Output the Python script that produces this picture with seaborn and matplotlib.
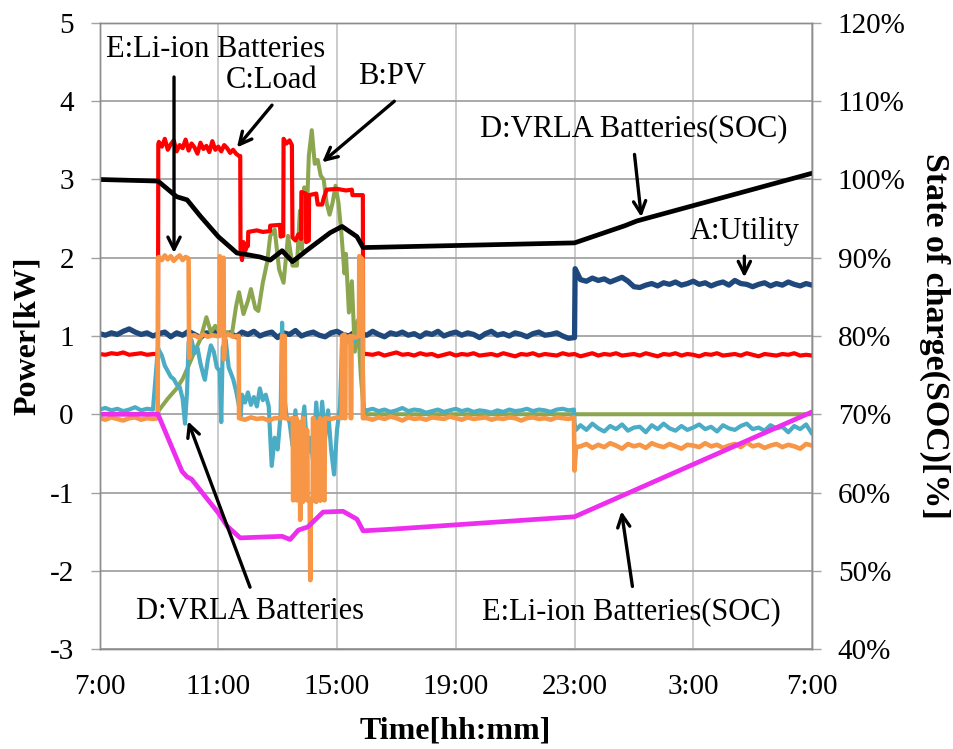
import matplotlib
matplotlib.use("Agg")
import numpy as np
import matplotlib.pyplot as plt
import seaborn as sns

# ---------------------------------------------------------------------------
# Time axis: hours elapsed since 7:00 (one full day, 7:00 -> 7:00)
# ---------------------------------------------------------------------------
TICK_HOURS = [0, 4, 8, 12, 16, 20, 24]
TICK_LABELS = ["7:00", "11:00", "15:00", "19:00", "23:00", "3:00", "7:00"]
POWER_TICKS = [-3, -2, -1, 0, 1, 2, 3, 4, 5]
SOC_TICKS = [40, 50, 60, 70, 80, 90, 100, 110, 120]

# ---------------------------------------------------------------------------
# A: Utility [kW]
# ---------------------------------------------------------------------------
UTIL_DAY = [  # 7:00-23:00, 12-min samples
    1.03, 1.01, 1.04, 1.02, 1.06, 1.09, 1.05, 1.02, 1.04, 1.00,
    1.03, 1.05, 0.99, 1.04, 1.01, 1.06, 1.02, 0.98, 1.04, 1.03,
    1.07, 1.01, 1.04, 0.99, 1.05, 1.02, 1.06, 1.00, 1.03, 1.05,
    0.98, 1.04, 1.02, 1.07, 1.00, 1.03, 1.05, 1.01, 0.99, 1.04,
    1.06, 1.02, 1.00, 1.05, 1.03, 1.01, 1.06, 1.02, 0.99, 1.04,
    1.02, 1.05, 1.01, 1.03, 0.99, 1.04, 1.02, 1.06, 1.00, 1.03,
    1.05, 1.01, 1.04, 1.02, 0.98, 1.03, 1.06, 1.01, 1.03, 1.00,
    1.04, 1.02, 0.99, 1.03, 1.05, 1.01, 1.02, 1.04, 1.00, 0.97,
    0.98,
]
UTIL_JUMP_T = [16.02]
UTIL_JUMP_V = [1.86]
UTIL_NIGHT = [  # 23:12-7:00, 12-min samples
    1.72, 1.70, 1.74, 1.71, 1.73, 1.69, 1.72, 1.75, 1.70, 1.63,
    1.62, 1.65, 1.67, 1.64, 1.68, 1.66, 1.69, 1.65, 1.67, 1.70,
    1.66, 1.68, 1.64, 1.67, 1.69, 1.65, 1.71, 1.67, 1.66, 1.63,
    1.66, 1.68, 1.64, 1.67, 1.65, 1.69, 1.66, 1.64, 1.67, 1.65,
]

# ---------------------------------------------------------------------------
# B: PV [kW]
# ---------------------------------------------------------------------------
PV_T = [0.0, 1.97, 2.0, 2.3, 2.6, 2.8, 3.0, 3.2, 3.4, 3.5,
        3.6, 3.75, 3.9, 4.1, 4.3, 4.45, 4.6, 4.7, 4.85, 5.0,
        5.1, 5.25, 5.35, 5.5, 5.65, 5.75, 5.9, 6.05, 6.2, 6.35,
        6.5, 6.65, 6.75, 6.82, 6.9, 6.97, 7.05, 7.15, 7.25, 7.35,
        7.45, 7.55, 7.65, 7.75, 7.85, 7.95, 8.05, 8.15, 8.25, 8.3,
        8.4, 8.5, 8.6, 8.7, 8.8, 8.9, 9.0, 24.0]
PV_V = [0.0, 0.0, 0.05, 0.2, 0.33, 0.45, 0.62, 0.8, 0.96, 1.1,
        1.24, 1.05, 1.13, 1.02, 1.05, 1.0, 1.38, 1.56, 1.28, 1.45,
        1.6, 1.35, 1.32, 1.68, 1.95, 2.28, 2.36, 1.85, 1.68, 2.28,
        1.9, 1.9, 2.6, 2.1, 2.9, 2.4, 3.3, 3.63, 3.2, 3.25,
        3.05, 3.0, 2.7, 2.55, 2.7, 2.92, 2.7, 2.3, 1.8, 2.05,
        1.3, 1.7, 0.8, 1.2, 0.5, 0.05, 0.0, 0.0]

# ---------------------------------------------------------------------------
# C: Load [kW]
# ---------------------------------------------------------------------------
LOAD_MORNING = [0.77, 0.76, 0.78, 0.77, 0.79, 0.76, 0.77, 0.78, 0.76, 0.77]  # 7:00-8:48
LOAD_RISE_T = [1.97, 1.98]
LOAD_RISE_V = [0.77, 3.45]
LOAD_PEAK = [  # 9:00-11:42, 6-min samples
    3.48, 3.42, 3.52, 3.38, 3.45, 3.50, 3.36, 3.44, 3.40, 3.51,
    3.37, 3.46, 3.41, 3.33, 3.47, 3.39, 3.43, 3.35, 3.49, 3.38,
    3.42, 3.36, 3.44, 3.40, 3.34, 3.38, 3.33, 3.30,
]
LOAD_MID_T = [4.74, 4.75, 4.8, 4.85, 4.9, 4.97, 5.0, 5.01, 5.3, 5.5,
              5.74, 5.75, 6.08, 6.1, 6.19, 6.2, 6.3, 6.4, 6.48, 6.5,
              6.6, 6.7, 6.79, 6.8, 6.95, 6.96, 7.05, 7.06, 7.3, 7.35,
              7.5, 7.55, 7.65, 8.0, 8.3, 8.5, 8.52, 8.87, 8.88]
LOAD_MID_V = [3.3, 2.1, 1.97, 2.2, 2.08, 2.15, 2.15, 2.33, 2.35, 2.33,
              2.34, 2.41, 2.42, 2.27, 2.28, 3.52, 3.46, 3.5, 3.44, 2.26,
              2.22, 2.3, 2.24, 2.84, 2.82, 2.2, 2.22, 2.8, 2.82, 2.68,
              2.68, 2.76, 2.87, 2.88, 2.86, 2.87, 2.8, 2.8, 0.77]
LOAD_NIGHT = [  # 16:00-7:00, 12-min samples
    0.77, 0.76, 0.78, 0.75, 0.77, 0.79, 0.76, 0.77, 0.75, 0.78,
    0.76, 0.77, 0.74, 0.76, 0.78, 0.75, 0.77, 0.76, 0.78, 0.75,
    0.76, 0.77, 0.75, 0.78, 0.76, 0.74, 0.77, 0.76, 0.78, 0.75,
    0.77, 0.76, 0.75, 0.78, 0.76, 0.77, 0.74, 0.76, 0.78, 0.75,
    0.77, 0.76, 0.78, 0.75, 0.76, 0.77, 0.75, 0.78, 0.76, 0.74,
    0.77, 0.76, 0.78, 0.75, 0.77, 0.76, 0.74, 0.77, 0.76, 0.78,
    0.75, 0.76, 0.77, 0.75, 0.78, 0.76, 0.74, 0.77, 0.76, 0.75,
    0.77, 0.76, 0.78, 0.75, 0.76, 0.75,
]

# ---------------------------------------------------------------------------
# D: VRLA batteries power [kW]
# ---------------------------------------------------------------------------
VRLA_MORNING = [0.06, 0.08, 0.05, 0.07, 0.04, 0.06, 0.09, 0.05, 0.07, 0.06]
VRLA_DAY_T = [1.97, 2.0, 2.1, 2.2, 2.3, 2.4, 2.5, 2.6, 2.7, 2.8,
              2.88, 2.95, 3.0, 3.1, 3.2, 3.3, 3.4, 3.5, 3.55, 3.65,
              3.75, 3.85, 3.95, 4.05, 4.1, 4.15, 4.25, 4.35, 4.5, 4.6,
              4.7, 4.75, 4.8, 4.9, 5.0, 5.1, 5.2, 5.3, 5.4, 5.5,
              5.6, 5.7, 5.8, 5.9, 6.0, 6.1, 6.15, 6.2, 6.3, 6.4,
              6.5, 6.6, 6.7, 6.8, 6.9, 7.0, 7.1, 7.2, 7.3, 7.4,
              7.5, 7.6, 7.7, 7.8, 7.9, 8.0, 8.1, 8.17, 8.3, 8.5,
              8.7, 8.85, 8.9]
VRLA_DAY_V = [0.85, 0.82, 0.75, 0.62, 0.55, 0.48, 0.45, 0.38, 0.35, 0.2,
              -0.12, 0.3, 0.92, 0.95, 0.78, 0.85, 0.65, 0.5, 0.44, 0.7,
              0.88, 0.8, 0.6, 0.55, -0.1, 0.85, 0.95, 0.6, 0.45, 0.3,
              0.1, -0.03, 0.25, 0.15, 0.28, 0.12, 0.22, 0.1, 0.33, 0.18,
              0.25, 0.1, -0.66, -0.3, -0.45, 0.0, 1.17, 0.3, -0.02, -0.1,
              -0.4, 0.05, -0.55, -0.2, 0.1, -0.5, -0.3, -0.62, 0.15, -0.35,
              0.16, -0.3, 0.05, -0.45, -0.77, -0.2, 0.1, 0.9, 0.95, 0.9,
              1.0, 0.95, 0.06]
VRLA_EVENING = [  # 16:00-22:48
    0.05, 0.07, 0.04, 0.06, 0.03, 0.05, 0.08, 0.04, 0.06, 0.05,
    0.02, 0.04, 0.06, 0.03, 0.05, 0.07, 0.04, 0.06, 0.03, 0.05,
    0.04, 0.02, 0.05, 0.03, 0.06, 0.04, 0.05, 0.07, 0.04, 0.06,
    0.05, 0.03, 0.06, 0.07, 0.05,
]
VRLA_STEP_T = [15.98, 16.0, 16.05]
VRLA_STEP_V = [0.06, -0.12, -0.2]
VRLA_NIGHT = [  # 23:12-7:00
    -0.14, -0.20, -0.12, -0.18, -0.22, -0.15, -0.19, -0.13, -0.21, -0.17,
    -0.16, -0.23, -0.14, -0.19, -0.12, -0.18, -0.21, -0.15, -0.20, -0.17,
    -0.13, -0.19, -0.16, -0.22, -0.14, -0.18, -0.20, -0.15, -0.12, -0.19,
    -0.17, -0.21, -0.14, -0.18, -0.16, -0.23, -0.15, -0.19, -0.13, -0.25,
]

# ---------------------------------------------------------------------------
# E: Li-ion batteries power [kW]
# ---------------------------------------------------------------------------
LI_MORNING = [-0.05, -0.07, -0.04, -0.06, -0.08, -0.05, -0.04, -0.07, -0.05, -0.06]
LI_DAY_T = [1.96, 1.97, 2.0, 2.1, 2.2, 2.3, 2.4, 2.5, 2.6, 2.7,
            2.8, 2.9, 3.0, 3.02, 3.06, 3.2, 3.35, 3.5, 3.65, 3.8,
            3.95, 4.04, 4.05, 4.12, 4.18, 4.19, 4.23, 4.35, 4.5, 4.69,
            4.7, 4.9, 5.1, 5.3, 5.5, 5.7, 5.9, 6.14, 6.15, 6.24,
            6.25, 6.4, 6.51, 6.52, 6.6, 6.61, 6.64, 6.65, 6.72, 6.73,
            6.75, 6.76, 6.78, 6.85, 6.86, 6.88, 6.89, 6.98, 6.99, 7.01,
            7.08, 7.1, 7.12, 7.18, 7.19, 7.21, 7.22, 7.3, 7.31, 7.33,
            7.42, 7.43, 7.45, 7.55, 7.58, 7.59, 7.8, 8.0, 8.16, 8.17,
            8.25, 8.26, 8.28, 8.29, 8.45, 8.46, 8.48, 8.49, 8.62, 8.74,
            8.75, 8.86, 8.87]
LI_DAY_V = [-0.05, 2.0, 2.01, 1.97, 2.03, 1.98, 2.02, 1.96, 2.0, 2.03,
            1.97, 2.01, 1.99, 0.72, 1.0, 1.01, 0.98, 1.02, 0.99, 1.01,
            1.0, 1.0, 2.02, 1.97, 2.0, 0.7, 1.0, 1.02, 0.99, 1.0,
            -0.05, -0.07, -0.04, -0.06, -0.05, -0.08, -0.05, -0.05, 1.0, 1.0,
            -0.05, -0.06, -0.05, -1.1, -1.08, -0.05, -0.05, -1.1, -1.05, -0.1,
            -0.1, -1.35, -1.1, -1.12, -0.05, -0.05, -1.1, -1.08, -0.2, -1.1,
            -1.1, -2.12, -1.1, -1.05, -0.05, -0.05, -1.1, -1.12, -0.1, -1.08,
            -1.1, -0.05, -1.1, -1.08, -1.1, -0.05, -0.06, -0.04, -0.05, 1.0,
            1.02, -0.05, -0.05, 0.98, 1.0, -0.05, -0.05, 1.0, 0.98, 1.0,
            2.02, 1.98, -0.05]
LI_EVENING = [  # 16:00-22:48
    -0.05, -0.07, -0.04, -0.06, -0.03, -0.05, -0.08, -0.04, -0.06, -0.05,
    -0.07, -0.04, -0.05, -0.06, -0.03, -0.05, -0.07, -0.04, -0.06, -0.05,
    -0.04, -0.07, -0.05, -0.06, -0.04, -0.05, -0.08, -0.05, -0.04, -0.06,
    -0.05, -0.07, -0.04, -0.05, -0.06,
]
LI_STEP_T = [15.98, 16.0, 16.05]
LI_STEP_V = [-0.04, -0.72, -0.42]
LI_NIGHT = [  # 23:12-7:00
    -0.41, -0.38, -0.43, -0.39, -0.42, -0.37, -0.40, -0.44, -0.38, -0.41,
    -0.39, -0.43, -0.37, -0.40, -0.42, -0.38, -0.41, -0.44, -0.39, -0.40,
    -0.42, -0.37, -0.41, -0.39, -0.43, -0.40, -0.38, -0.42, -0.36, -0.41,
    -0.39, -0.43, -0.40, -0.38, -0.42, -0.39, -0.41, -0.44, -0.38, -0.40,
]

# ---------------------------------------------------------------------------
# State of charge [%]
# ---------------------------------------------------------------------------
VRLA_SOC_T = [0.0, 1.0, 1.97, 2.6, 2.95, 3.4, 4.0, 4.63, 4.97, 5.4, 5.75,
              6.15, 6.5, 7.0, 7.77, 8.17, 8.67, 8.88, 16.0, 17.7, 18.1, 24.0]
VRLA_SOC_V = [100.0, 99.9, 99.8, 97.8, 97.4, 95.3, 92.7, 90.6, 90.4, 90.1, 89.7,
              90.9, 89.5, 91.0, 93.2, 94.0, 92.7, 91.3, 91.9, 94.1, 94.7, 100.8]
LI_SOC_T = [0.0, 1.97, 2.78, 2.95, 3.1, 4.0, 4.3, 4.74, 6.15, 6.42,
            6.7, 7.02, 7.53, 8.2, 8.67, 8.88, 9.8, 16.0, 24.0]
LI_SOC_V = [70.0, 70.0, 62.7, 62.0, 61.7, 57.4, 55.7, 54.2, 54.4, 54.0,
            55.2, 55.6, 57.5, 57.6, 56.6, 55.1, 55.3, 56.9, 70.3]


def regular(start, stop, values):
    """Evenly spaced sample times for a block of logged values."""
    return list(np.linspace(start, stop, len(values))), list(values)


def join(*segments):
    t, v = [], []
    for st, sv in segments:
        t.extend(st)
        v.extend(sv)
    return np.array(t), np.array(v)


util_t, util_v = join(regular(0, 16, UTIL_DAY), (UTIL_JUMP_T, UTIL_JUMP_V),
                      regular(16.2, 24, UTIL_NIGHT))
pv_t, pv_v = np.array(PV_T), np.array(PV_V)
load_t, load_v = join(regular(0, 1.8, LOAD_MORNING), (LOAD_RISE_T, LOAD_RISE_V),
                      regular(2.0, 4.7, LOAD_PEAK), (LOAD_MID_T, LOAD_MID_V),
                      regular(9.0, 24, LOAD_NIGHT))
vrla_t, vrla_v = join(regular(0, 1.8, VRLA_MORNING), (VRLA_DAY_T, VRLA_DAY_V),
                      regular(9.0, 15.8, VRLA_EVENING), (VRLA_STEP_T, VRLA_STEP_V),
                      regular(16.2, 24, VRLA_NIGHT))
li_t, li_v = join(regular(0, 1.8, LI_MORNING), (LI_DAY_T, LI_DAY_V),
                  regular(9.0, 15.8, LI_EVENING), (LI_STEP_T, LI_STEP_V),
                  regular(16.2, 24, LI_NIGHT))

# ---------------------------------------------------------------------------
# Styling
# ---------------------------------------------------------------------------
sns.set_style("white")
plt.rcParams["font.family"] = ["Liberation Serif", "DejaVu Serif"]
plt.rcParams["text.color"] = "black"
plt.rcParams["axes.labelcolor"] = "black"
plt.rcParams["xtick.color"] = "black"
plt.rcParams["ytick.color"] = "black"

GRID_H = "#A3A3A3"
GRID_V = "#BDBDBD"
SPINE = "#8C8C8C"

fig = plt.figure(figsize=(9.54, 7.49), dpi=100)
ax = fig.add_axes([0.1043, 0.1335, 0.7469, 0.8358])
ax2 = ax.twinx()

line_kw = dict(estimator=None, sort=False, legend=False)
sns.lineplot(x=util_t, y=util_v, ax=ax, color="#1F497D", linewidth=3.8, **line_kw)
sns.lineplot(x=pv_t, y=pv_v, ax=ax, color="#8BA64E", linewidth=2.9, **line_kw)
sns.lineplot(x=load_t, y=load_v, ax=ax, color="#FF0000", linewidth=3.0, **line_kw)
sns.lineplot(x=vrla_t, y=vrla_v, ax=ax, color="#4BACC6", linewidth=3.0, **line_kw)
sns.lineplot(x=li_t, y=li_v, ax=ax, color="#F79646", linewidth=3.3, **line_kw)

sns.lineplot(x=VRLA_SOC_T, y=VRLA_SOC_V, ax=ax2, color="#000000", linewidth=3.4, **line_kw)
sns.lineplot(x=LI_SOC_T, y=LI_SOC_V, ax=ax2, color="#EE2EEE", linewidth=3.4, **line_kw)

ax.set_xlim(0, 24)
ax.set_ylim(-3, 5)
ax2.set_ylim(40, 120)

ax.set_xticks(TICK_HOURS)
ax.set_xticklabels(TICK_LABELS)
ax.set_yticks(POWER_TICKS)
ax.set_yticklabels([str(v) for v in POWER_TICKS])
ax2.set_yticks(SOC_TICKS)
ax2.set_yticklabels([f"{v}%" for v in SOC_TICKS])
ax.set_xlabel("")
ax.set_ylabel("")
ax2.set_ylabel("")

ax.set_axisbelow(True)
ax.grid(True, axis="y", color=GRID_H, linewidth=1.3)
ax.grid(True, axis="x", color=GRID_V, linewidth=1.1)
ax2.grid(False)

for a in (ax, ax2):
    for s in a.spines.values():
        s.set_color(SPINE)
        s.set_linewidth(1.0)

TICK_FS = 21
ax.tick_params(axis="y", direction="out", length=6.5, width=1.0, color=GRID_H,
               pad=12, labelsize=TICK_FS, left=True, labelcolor="black")
ax.tick_params(axis="x", length=0, pad=18, labelsize=TICK_FS, labelcolor="black")
ax2.tick_params(axis="y", direction="out", length=6.5, width=1.0, color=GRID_H,
                pad=12, labelsize=TICK_FS, right=True, labelcolor="black")

# axis titles
fig.text(27 / 954, 1 - 336 / 749, "Power[kW]", rotation=90, ha="center", va="center",
         fontsize=23, fontweight="bold", color="black")
fig.text(935 / 954, 1 - 336 / 749, "State of charge(SOC)[%]", rotation=270,
         ha="center", va="center", fontsize=24.5, fontweight="bold", color="black")
fig.text(455 / 954, 1 - 731 / 749, "Time[hh:mm]", ha="center", va="center",
         fontsize=23, fontweight="bold", color="black")

# callout labels with arrows (positions in kW / hour coordinates)
LBL_FS = 22
arrow_kw = dict(arrowstyle="->", color="black", lw=2.4, mutation_scale=22,
                shrinkA=0, shrinkB=0)
callouts = [
    ("E:Li-ion Batteries", (3.9, 4.66), (2.51, 4.31), (2.51, 2.06)),
    ("C:Load", (5.78, 4.26), (5.81, 3.95), (4.63, 3.41)),
    ("B:PV", (9.86, 4.31), (9.93, 4.0), (7.5, 3.22)),
    ("D:VRLA Batteries(SOC)", (17.98, 3.65), (18.02, 3.32), (18.25, 2.52)),
    ("A:Utility", (21.75, 2.33), (21.72, 2.02), (21.72, 1.75)),
    ("D:VRLA Batteries", (5.07, -2.52), (5.07, -2.21), (2.98, -0.09)),
    ("E:Li-ion Batteries(SOC)", (17.92, -2.52), (17.95, -2.2), (17.58, -1.24)),
]
for text, text_xy, tail, tip in callouts:
    ax2.annotate("", xy=tip, xytext=tail, xycoords=ax.transData,
                 textcoords=ax.transData, arrowprops=arrow_kw, zorder=10)
    ax2.text(*text_xy, text, transform=ax.transData, ha="center", va="center",
             fontsize=LBL_FS, color="black", zorder=11)

fig.savefig("out.png", dpi=100)
